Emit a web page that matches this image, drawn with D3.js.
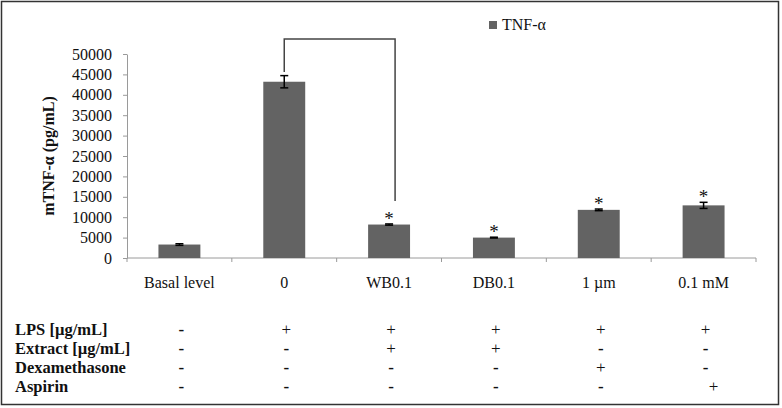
<!DOCTYPE html>
<html>
<head>
  <meta charset="utf-8">
  <title>TNF-α bar chart</title>
  <script src="https://d3js.org/d3.v7.min.js"></script>
  <style>
    body { margin: 0; background: #fff; }
    text { font-family: "Liberation Serif", "Times New Roman", serif; fill: #111; }
  </style>
</head>
<body>
  <div id="my_dataviz"></div>
</body>

<script>
  // chart data
  const categories = ["Basal level", "0", "WB0.1", "DB0.1", "1 \u00b5m", "0.1 mM"];
  const tnfValues = [3300, 43200, 8200, 5000, 11800, 12900];
  const tnfErrors = [200, 1500, 150, 100, 200, 750];
  const significant = [false, false, true, true, true, true];
  const yTicks = [0, 5000, 10000, 15000, 20000, 25000, 30000, 35000, 40000, 45000, 50000];

  // treatment table under the chart
  const rowLabels = ["LPS [\u00b5g/mL]", "Extract [\u00b5g/mL]", "Dexamethasone", "Aspirin"];
  const lpsRow = ["-", "+", "+", "+", "+", "+"];
  const extractRow = ["-", "-", "+", "+", "-", "-"];
  const dexRow = ["-", "-", "-", "-", "+", "-"];
  const aspirinRow = ["-", "-", "-", "-", "-", "+"];
  const tableRows = [lpsRow, extractRow, dexRow, aspirinRow];

  const W = 782, H = 408;
  const margin = {top: 54, right: 26, bottom: 150, left: 127};
  const width = 756 - margin.left,
        height = 258 - margin.top;
  const fs = "16px";

  const root = d3.select("#my_dataviz")
    .append("svg")
      .attr("width", W)
      .attr("height", H);

  // outer frame
  root.append("rect")
    .attr("x", 1.5).attr("y", 1.5)
    .attr("width", 777).attr("height", 403)
    .attr("fill", "none")
    .attr("stroke", "#333")
    .attr("stroke-width", 1.5);

  const svg = root.append("g")
    .attr("transform", `translate(${margin.left},${margin.top})`);

  const x = d3.scaleBand()
    .domain(categories)
    .range([0, width])
    .paddingInner(0.6)
    .paddingOuter(0.3);

  const y = d3.scaleLinear()
    .domain([0, 50000])
    .range([height, 0]);

  // Y axis
  const yAxis = svg.append("g")
    .call(d3.axisLeft(y).tickValues(yTicks).tickFormat(d3.format("d"))
      .tickSize(4).tickSizeOuter(0).tickPadding(11));
  yAxis.selectAll("line, path").attr("stroke", "#9a9a9a");
  yAxis.selectAll("text")
    .style("font-family", "Liberation Serif, serif")
    .style("font-size", fs)
    .attr("fill", "#222");

  // X axis with ticks between categories
  const xAxis = svg.append("g").attr("transform", `translate(0,${height})`);
  xAxis.append("line")
    .attr("x1", 0).attr("x2", width)
    .attr("stroke", "#9a9a9a");
  xAxis.selectAll(".sep")
    .data(d3.range(categories.length + 1))
    .join("line")
    .attr("x1", d => d * width / categories.length)
    .attr("x2", d => d * width / categories.length)
    .attr("y1", 0).attr("y2", 4)
    .attr("stroke", "#9a9a9a");
  xAxis.selectAll(".lbl")
    .data(categories)
    .join("text")
    .attr("x", d => x(d) + x.bandwidth() / 2)
    .attr("y", 30)
    .attr("text-anchor", "middle")
    .style("font-size", fs)
    .text(d => d);

  // bars
  svg.selectAll(".bar")
    .data(categories)
    .join("rect")
    .attr("x", d => x(d))
    .attr("y", (d, i) => y(tnfValues[i]))
    .attr("width", x.bandwidth())
    .attr("height", (d, i) => height - y(tnfValues[i]))
    .attr("fill", "#636363");

  // error bars
  const eb = svg.selectAll(".err")
    .data(categories)
    .join("g")
    .attr("transform", d => `translate(${x(d) + x.bandwidth() / 2},0)`);
  eb.append("line")
    .attr("y1", (d, i) => y(tnfValues[i] + tnfErrors[i]))
    .attr("y2", (d, i) => y(tnfValues[i] - tnfErrors[i]))
    .attr("stroke", "#000").attr("stroke-width", 1.5);
  eb.selectAll(".cap")
    .data((d, i) => [tnfValues[i] + tnfErrors[i], tnfValues[i] - tnfErrors[i]])
    .join("line")
    .attr("x1", -4).attr("x2", 4)
    .attr("y1", v => y(v)).attr("y2", v => y(v))
    .attr("stroke", "#000").attr("stroke-width", 1.5);

  // significance stars
  eb.filter((d, i) => significant[i])
    .append("text")
    .attr("y", (d) => { const i = categories.indexOf(d); return y(tnfValues[i] + tnfErrors[i]) + 1; })
    .attr("text-anchor", "middle")
    .style("font-size", "19px")
    .text("*");

  // comparison bracket between "0" and "WB0.1"
  const bx0 = x("0") + x.bandwidth() / 2,
        bx1 = x("WB0.1") + x.bandwidth() / 2 + 6;
  svg.append("path")
    .attr("d", `M${bx0},${y(45600)} V${y(53700)} H${bx1} V${y(14000)}`)
    .attr("fill", "none")
    .attr("stroke", "#444")
    .attr("stroke-width", 1.5);

  // Y axis title
  svg.append("text")
    .attr("transform", `translate(${-73},${height / 2}) rotate(-90)`)
    .attr("text-anchor", "middle")
    .style("font-size", fs)
    .style("font-weight", "bold")
    .text("mTNF-\u03b1 (pg/mL)");

  // legend
  const legend = root.append("g").attr("transform", "translate(489,21)");
  legend.append("rect").attr("width", 8).attr("height", 8).attr("fill", "#636363");
  legend.append("text")
    .attr("x", 13).attr("y", 9)
    .style("font-size", fs)
    .text("TNF-\u03b1");

  // treatment table
  const table = root.append("g");
  const rowY = [335, 354, 373, 392];
  rowLabels.forEach((lab, r) => {
    table.append("text")
      .attr("x", 15).attr("y", rowY[r])
      .style("font-size", "16.5px")
      .style("font-weight", "bold")
      .text(lab);
    table.selectAll(".m" + r)
      .data(tableRows[r])
      .join("text")
      .attr("x", (d, i) => margin.left + x(categories[i]) + x.bandwidth() / 2 + 2 + (r === 3 && d === "+" ? 8 : 0))
      .attr("y", rowY[r])
      .attr("text-anchor", "middle")
      .style("font-size", "17px")
      .style("font-weight", d => d === "-" ? "bold" : "normal")
      .text(d => d);
  });
</script>

</html>
